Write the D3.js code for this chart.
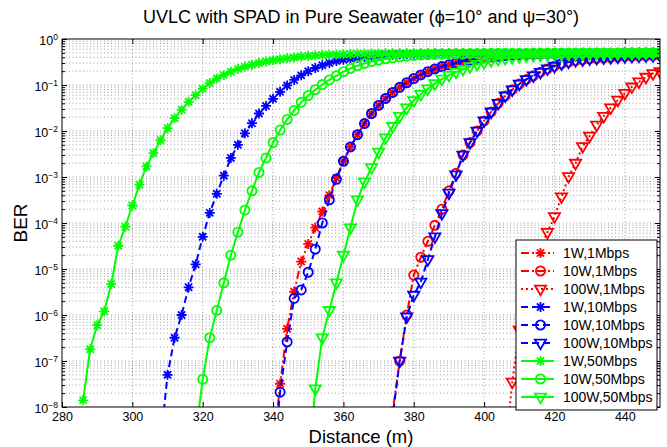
<!doctype html>
<html lang="en">
<head>
    <title>UVLC with SPAD in Pure Seawater</title>
    <script src='https://d3js.org/d3.v7.min.js'></script>
    <style>
        body { margin: 0; background: #fff; }
        svg text { font-family: "Liberation Sans", Arial, Helvetica, sans-serif; fill: #000; }
    </style>
</head>
<body>
<script>
    // ---- Data ----
    // distance axis in metres, one sample every 2 m
    const distance = [280,282,284,286,288,290,292,294,296,298,300,302,304,306,308,310,312,314,316,318,
                      320,322,324,326,328,330,332,334,336,338,340,342,344,346,348,350,352,354,356,358,
                      360,362,364,366,368,370,372,374,376,378,380,382,384,386,388,390,392,394,396,398,
                      400,402,404,406,408,410,412,414,416,418,420,422,424,426,428,430,432,434,436,438,
                      440,442,444,446,448,450];

    const xTicks = [280, 300, 320, 340, 360, 380, 400, 420, 440];
    const yDecades = [1e-8, 1e-7, 1e-6, 1e-5, 1e-4, 1e-3, 1e-2, 1e-1, 1];

    const seriesNames = ["1W,1Mbps", "10W,1Mbps", "100W,1Mbps",
                         "1W,10Mbps", "10W,10Mbps", "100W,10Mbps",
                         "1W,50Mbps", "10W,50Mbps", "100W,50Mbps"];
    // first distance of each BER list below
    const seriesStart = [340, 372, 406, 308, 340, 372, 286, 318, 350];

    const ber_1W_1Mbps = [1.0e-9, 3.2e-8, 5.0e-7, 3.2e-6, 1.45e-5, 3.5e-5, 7.9e-5, 1.78e-4, 4.0e-4, 9.5e-4,
        2.2e-3, 4.5e-3, 8.3e-3, 1.45e-2, 2.4e-2, 3.6e-2, 5.1e-2, 6.9e-2, 8.9e-2, 0.112,
        0.138, 0.166, 0.195, 0.224, 0.251, 0.275, 0.302, 0.331, 0.355, 0.372,
        0.389, 0.407, 0.422, 0.437, 0.447, 0.455, 0.462, 0.467, 0.471, 0.475,
        0.478, 0.481, 0.484, 0.486, 0.488, 0.489, 0.490, 0.491, 0.492, 0.493,
        0.494, 0.494, 0.495, 0.495, 0.496, 0.496];
    const ber_10W_1Mbps = [5.0e-10, 7.9e-9, 1.0e-7, 1.0e-6, 7.4e-6, 1.8e-5, 4.0e-5, 8.9e-5, 2.0e-4, 5.0e-4,
        1.2e-3, 3.0e-3, 5.6e-3, 1.0e-2, 1.66e-2, 2.6e-2, 4.0e-2, 5.8e-2, 7.9e-2, 0.105,
        0.132, 0.158, 0.19, 0.224, 0.257, 0.288, 0.316, 0.339, 0.355, 0.372,
        0.38, 0.389, 0.398, 0.407, 0.417, 0.42, 0.427, 0.432, 0.437, 0.44];
    const ber_100W_1Mbps = [1.0e-9, 3.5e-8, 4.7e-7, 2.5e-6, 1.0e-5, 2.8e-5, 6.3e-5, 1.38e-4, 3.7e-4, 1.02e-3,
        2.0e-3, 4.6e-3, 7.8e-3, 1.35e-2, 2.1e-2, 3.2e-2, 4.7e-2, 6.6e-2, 9.1e-2, 0.117,
        0.148, 0.178, 0.195];
    const ber_1W_10Mbps = [1.6e-9, 5.0e-8, 3.2e-7, 1.0e-6, 4.0e-6, 1.26e-5, 5.0e-5, 1.66e-4, 4.3e-4, 1.07e-3,
        2.6e-3, 5.0e-3, 8.9e-3, 1.48e-2, 2.4e-2, 3.5e-2, 5.0e-2, 7.1e-2, 9.8e-2, 0.129,
        0.162, 0.200, 0.234, 0.269, 0.302, 0.331, 0.355, 0.372, 0.389, 0.407,
        0.422, 0.437, 0.447, 0.455, 0.462, 0.467, 0.471, 0.475, 0.478, 0.481,
        0.484, 0.486, 0.488, 0.489, 0.490, 0.491, 0.492, 0.493, 0.494, 0.494,
        0.495, 0.495, 0.496, 0.496, 0.496, 0.497, 0.497, 0.497, 0.497, 0.498,
        0.498, 0.498, 0.498, 0.498, 0.499, 0.499, 0.499, 0.499, 0.499, 0.499,
        0.499, 0.499];
    const ber_10W_10Mbps = [6.3e-10, 2.1e-8, 2.6e-7, 2.3e-6, 3.5e-6, 8.5e-6, 2.7e-5, 1.0e-4, 3.2e-4, 8.9e-4,
        2.2e-3, 4.5e-3, 8.3e-3, 1.45e-2, 2.4e-2, 3.6e-2, 5.1e-2, 6.9e-2, 8.9e-2, 0.112,
        0.138, 0.166, 0.195, 0.224, 0.251, 0.275, 0.302, 0.331, 0.355, 0.372,
        0.389, 0.407, 0.422, 0.437, 0.447, 0.455, 0.462, 0.467, 0.471, 0.475,
        0.478, 0.481, 0.484, 0.486, 0.488, 0.489, 0.490, 0.491, 0.492, 0.493,
        0.494, 0.494, 0.495, 0.495, 0.496, 0.496];
    const ber_100W_10Mbps = [3.2e-10, 6.3e-9, 1.0e-7, 9.1e-7, 2.7e-6, 5.2e-6, 1.6e-5, 5.0e-5, 1.6e-4, 4.5e-4,
        1.12e-3, 3.0e-3, 5.6e-3, 1.0e-2, 1.66e-2, 2.6e-2, 4.0e-2, 5.8e-2, 7.9e-2, 0.105,
        0.132, 0.158, 0.19, 0.224, 0.257, 0.288, 0.316, 0.339, 0.355, 0.372,
        0.38, 0.389, 0.398, 0.407, 0.417, 0.42, 0.427, 0.432, 0.437, 0.44];
    const ber_1W_50Mbps = [1.4e-8, 1.8e-7, 6.0e-7, 1.2e-6, 4.7e-6, 3.2e-5, 8.3e-5, 2.4e-4, 6.8e-4, 1.7e-3,
        3.3e-3, 6.3e-3, 1.15e-2, 1.9e-2, 2.9e-2, 4.3e-2, 6.0e-2, 8.3e-2, 0.110, 0.138,
        0.166, 0.195, 0.224, 0.251, 0.275, 0.302, 0.324, 0.347, 0.363, 0.380,
        0.398, 0.417, 0.427, 0.437, 0.447, 0.457, 0.462, 0.468, 0.472, 0.476,
        0.479, 0.482, 0.485, 0.487, 0.489, 0.490, 0.491, 0.492, 0.493, 0.494,
        0.494, 0.495, 0.495, 0.496, 0.496, 0.497, 0.497, 0.497, 0.498, 0.498,
        0.498, 0.498, 0.498, 0.499, 0.499, 0.499, 0.499, 0.499, 0.499, 0.499,
        0.499, 0.499, 0.499, 0.499, 0.499, 0.499, 0.499, 0.499, 0.499, 0.499,
        0.499, 0.499, 0.499];
    const ber_10W_50Mbps = [2.5e-9, 4.0e-8, 3.2e-7, 1.26e-6, 5.0e-6, 2.0e-5, 6.3e-5, 1.9e-4, 5.0e-4, 1.26e-3,
        2.6e-3, 5.6e-3, 1.05e-2, 1.78e-2, 2.8e-2, 4.2e-2, 5.9e-2, 7.9e-2, 0.102, 0.129,
        0.158, 0.195, 0.229, 0.263, 0.295, 0.324, 0.347, 0.372, 0.389, 0.407,
        0.422, 0.437, 0.447, 0.455, 0.462, 0.467, 0.471, 0.475, 0.478, 0.481,
        0.484, 0.486, 0.488, 0.489, 0.490, 0.491, 0.492, 0.493, 0.494, 0.494,
        0.495, 0.495, 0.496, 0.496, 0.496, 0.497, 0.497, 0.497, 0.498, 0.498,
        0.498, 0.498, 0.499, 0.499, 0.499, 0.499, 0.499];
    const ber_100W_50Mbps = [3.2e-10, 2.5e-8, 3.2e-7, 1.26e-6, 5.0e-6, 2.0e-5, 7.9e-5, 3.2e-4, 7.9e-4, 1.6e-3,
        3.5e-3, 7.1e-3, 1.26e-2, 2.1e-2, 3.2e-2, 4.6e-2, 6.3e-2, 8.3e-2, 0.107, 0.135,
        0.162, 0.191, 0.219, 0.251, 0.282, 0.309, 0.339, 0.363, 0.380, 0.398,
        0.417, 0.43, 0.44, 0.448, 0.455, 0.461, 0.466, 0.47, 0.474, 0.477,
        0.48, 0.483, 0.485, 0.487, 0.489, 0.49, 0.491, 0.492, 0.493, 0.494,
        0.495];

    const seriesBer = [ber_1W_1Mbps, ber_10W_1Mbps, ber_100W_1Mbps,
                       ber_1W_10Mbps, ber_10W_10Mbps, ber_100W_10Mbps,
                       ber_1W_50Mbps, ber_10W_50Mbps, ber_100W_50Mbps];

    // ---- Styles (MATLAB look) ----
    const seriesColor  = ["#ff0000", "#ff0000", "#ff0000", "#0000ff", "#0000ff", "#0000ff", "#00ff00", "#00ff00", "#00ff00"];
    const seriesDash   = ["8,3,2,3", "8,3,2,3", "2,3", "7,4", "7,4", "7,4", null, null, null];
    const seriesMarker = ["star", "circle", "triangle", "star", "circle", "triangle", "star", "circle", "triangle"];

    // build point lists for the library
    const series = seriesNames.map((name, i) => {
        const first = distance.indexOf(seriesStart[i]);
        return {
            name: name,
            points: seriesBer[i].map((v, j) => ({ d: distance[first + j], v: v })),
            color: seriesColor[i], dash: seriesDash[i], marker: seriesMarker[i]
        };
    });

    // ---- Dimensions ----
    const width = 667, height = 447;
    const plot = { left: 62, top: 39, right: 660, bottom: 407 };

    const x = d3.scaleLinear().domain([280, 450]).range([plot.left, plot.right]);
    const y = d3.scaleLog().domain([1e-8, 1]).range([plot.bottom, plot.top]);

    const svg = d3.select("body").append("svg")
        .attr("width", width)
        .attr("height", height);

    svg.append("defs").append("clipPath").attr("id", "plot-clip")
        .append("rect")
        .attr("x", plot.left).attr("y", plot.top)
        .attr("width", plot.right - plot.left).attr("height", plot.bottom - plot.top);

    // minor log positions (2..9 x 10^n)
    const yMinor = [];
    yDecades.slice(0, -1).forEach(dec => {
        for (let m = 2; m <= 9; m++) yMinor.push(m * dec);
    });

    // ---- Grid (dotted, like MATLAB "grid on" + minor grid) ----
    const grid = svg.append("g")
        .attr("stroke", "#000")
        .attr("stroke-opacity", 0.55)
        .attr("stroke-width", 0.7)
        .attr("stroke-dasharray", "1,2.5");

    grid.selectAll(".vgrid")
        .data(xTicks.slice(1))
        .join("line")
        .attr("x1", d => x(d)).attr("x2", d => x(d))
        .attr("y1", plot.top).attr("y2", plot.bottom);

    grid.selectAll(".hgrid")
        .data(yDecades.slice(1, -1).concat(yMinor))
        .join("line")
        .attr("x1", plot.left).attr("x2", plot.right)
        .attr("y1", d => y(d)).attr("y2", d => y(d));

    // ---- Series ----
    const line = d3.line()
        .x(d => x(d.d))
        .y(d => y(d.v));

    function markerPath(type) {
        if (type === "star")   return "M-5,0H5M0,-5V5M-3.6,-3.6L3.6,3.6M-3.6,3.6L3.6,-3.6";
        if (type === "circle") return "M4.6,0A4.6,4.6 0 1,1 -4.6,0A4.6,4.6 0 1,1 4.6,0Z";
        return "M-5.6,-3.4L5.6,-3.4L0,6.2Z";
    }

    const plotArea = svg.append("g").attr("clip-path", "url(#plot-clip)");

    series.forEach(s => {
        const g = plotArea.append("g");

        g.append("path")
            .datum(s.points)
            .attr("fill", "none")
            .attr("stroke", s.color)
            .attr("stroke-width", 2)
            .attr("stroke-dasharray", s.dash)
            .attr("d", line);

        g.selectAll(".mk")
            .data(s.points)
            .join("path")
            .attr("transform", d => `translate(${x(d.d)},${y(d.v)})`)
            .attr("d", markerPath(s.marker))
            .attr("fill", "none")
            .attr("stroke", s.color)
            .attr("stroke-width", 1.8);
    });

    // ---- Axes (ticks inside, on all four sides) ----
    const axisBottom = svg.append("g")
        .attr("transform", `translate(0,${plot.bottom})`)
        .call(d3.axisBottom(x).tickValues(xTicks).tickSize(-5).tickPadding(5));
    axisBottom.selectAll("text").attr("font-size", 12.5);

    svg.append("g")
        .attr("transform", `translate(0,${plot.top})`)
        .call(d3.axisTop(x).tickValues(xTicks).tickSize(-5).tickFormat(""));

    const axisLeft = svg.append("g")
        .attr("transform", `translate(${plot.left},0)`)
        .call(d3.axisLeft(y).tickValues(yDecades).tickSize(-5).tickPadding(4));

    // log labels as 10 with superscript exponent
    axisLeft.selectAll(".tick text").each(function(d) {
        const t = d3.select(this).text(null).attr("font-size", 12.5).attr("dy", "0.45em");
        const e = Math.round(Math.log10(d));
        t.append("tspan").text("10");
        t.append("tspan").attr("dy", "-0.55em").attr("font-size", 8.5).text(e === 0 ? "0" : "\u2212" + (-e));
    });

    svg.append("g")
        .attr("transform", `translate(${plot.left},0)`)
        .call(d3.axisLeft(y).tickValues(yMinor).tickSize(-3).tickFormat(""));

    svg.append("g")
        .attr("transform", `translate(${plot.right},0)`)
        .call(d3.axisRight(y).tickValues(yDecades).tickSize(-5).tickFormat(""));

    svg.append("g")
        .attr("transform", `translate(${plot.right},0)`)
        .call(d3.axisRight(y).tickValues(yMinor).tickSize(-3).tickFormat(""));

    svg.selectAll(".domain").remove();
    svg.selectAll(".tick line").attr("stroke", "#000");

    // axes box
    svg.append("rect")
        .attr("x", plot.left).attr("y", plot.top)
        .attr("width", plot.right - plot.left).attr("height", plot.bottom - plot.top)
        .attr("fill", "none")
        .attr("stroke", "#000")
        .attr("stroke-width", 1);

    // ---- Labels ----
    svg.append("text")
        .attr("x", (plot.left + plot.right) / 2).attr("y", 23)
        .attr("text-anchor", "middle")
        .attr("font-size", 18)
        .text("UVLC with SPAD in Pure Seawater (\u03D5=10\u00B0 and \u03C8=30\u00B0)");

    svg.append("text")
        .attr("x", (plot.left + plot.right) / 2).attr("y", 443)
        .attr("text-anchor", "middle")
        .attr("font-size", 18.5)
        .text("Distance (m)");

    svg.append("text")
        .attr("transform", `translate(27,${(plot.top + plot.bottom) / 2}) rotate(-90)`)
        .attr("text-anchor", "middle")
        .attr("font-size", 19)
        .text("BER");

    // ---- Legend ----
    const legend = svg.append("g").attr("transform", "translate(516,240)");
    legend.append("rect")
        .attr("width", 141).attr("height", 170)
        .attr("fill", "#fff")
        .attr("stroke", "#000")
        .attr("stroke-width", 1);

    const rows = legend.selectAll(".row")
        .data(series)
        .join("g")
        .attr("transform", (d, i) => `translate(0,${13 + i * 18})`);

    rows.append("line")
        .attr("x1", 5).attr("x2", 38)
        .attr("stroke", d => d.color)
        .attr("stroke-width", 2)
        .attr("stroke-dasharray", d => d.dash);

    rows.append("path")
        .attr("transform", "translate(24.5,0)")
        .attr("d", d => markerPath(d.marker))
        .attr("fill", "none")
        .attr("stroke", d => d.color)
        .attr("stroke-width", 1.8);

    rows.append("text")
        .attr("x", 47).attr("y", 5)
        .attr("font-size", 14)
        .text(d => d.name);
</script>
</body>
</html>
